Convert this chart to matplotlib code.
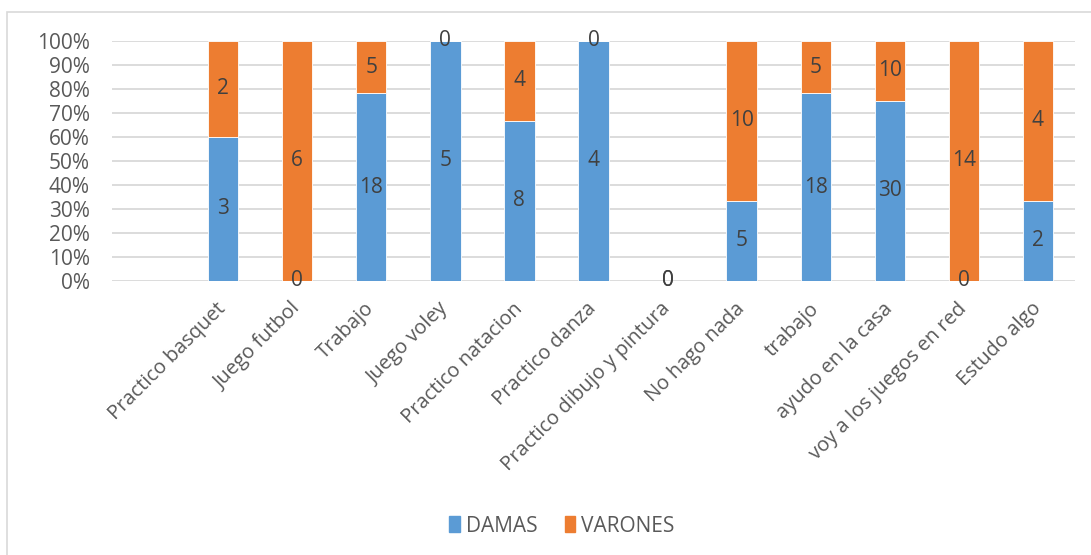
import numpy as np
import matplotlib
matplotlib.use("Agg")
import matplotlib.pyplot as plt
from matplotlib.patches import Rectangle

# categories (first slot is empty in the original chart)
categorias = ['', 'Practico basquet', 'Juego futbol', 'Trabajo', 'Juego voley',
              'Practico natacion', 'Practico danza', 'Practico dibujo y pintura',
              'No hago nada', 'trabajo', 'ayudo en la casa',
              'voy a los juegos en red', 'Estudo algo']
damas = [None, 3, 0, 18, 5, 8, 4, 0, 5, 18, 30, 0, 2]
varones = [None, 2, 6, 5, 0, 4, 0, 0, 10, 5, 10, 14, 4]

AZUL = '#5B9BD5'
NARANJA = '#ED7D31'
GRIS_TXT = '#595959'
ETIQ = '#404040'

plt.rcParams['font.family'] = ['Open Sans', 'DejaVu Sans']

fig = plt.figure(figsize=(10.91, 5.55), dpi=100)
# chart frame (light grey border like the Excel chart area)
fig.patches.append(Rectangle((7 / 1091, -0.1), 1.2, (555 - 12) / 555 + 0.1,
                             transform=fig.transFigure, fill=False,
                             edgecolor='#D9D9D9', linewidth=1.2))

ax = fig.add_axes([112 / 1091, (555 - 281) / 555, (1075 - 112) / 1091, 240 / 555])

x = np.arange(len(categorias))
for i in x:
    d, v = damas[i], varones[i]
    if d is None:
        continue
    tot = d + v
    fd = d / tot if tot else 0.0
    fv = v / tot if tot else 0.0
    ax.bar(i, fd, width=0.41, color=AZUL, edgecolor='white', linewidth=0.6, zorder=3)
    ax.bar(i, fv, bottom=fd, width=0.41, color=NARANJA, edgecolor='white', linewidth=0.6, zorder=3)
    # data labels centered in each segment
    ax.text(i, fd / 2, str(d), ha='center', va='center', fontsize=15, color=ETIQ, zorder=4)
    ax.text(i, fd + fv / 2, str(v), ha='center', va='center', fontsize=15, color=ETIQ, zorder=4)

ax.set_xlim(-0.5, len(categorias) - 0.5)
ax.set_ylim(0, 1)
ax.set_yticks(np.arange(0, 1.01, 0.1))
ax.set_yticklabels([f'{int(round(t * 100))}%' for t in np.arange(0, 1.01, 0.1)])
ax.yaxis.grid(True, color='#D9D9D9', linewidth=1.3, zorder=0)
ax.set_axisbelow(True)
for s in ax.spines.values():
    s.set_visible(False)
ax.tick_params(axis='both', length=0, colors=GRIS_TXT)
ax.tick_params(axis='y', pad=16, labelsize=15)

ax.set_xticks(x)
ax.set_xticklabels(categorias, rotation=45, ha='right', va='center', rotation_mode='anchor')
ax.tick_params(axis='x', pad=18, labelsize=14.5)

# legend
handles = [Rectangle((0, 0), 1, 1, color=AZUL), Rectangle((0, 0), 1, 1, color=NARANJA)]
fig.legend(handles, ['DAMAS', 'VARONES'], loc='center', bbox_to_anchor=(0.515, (555 - 526) / 555),
           ncol=2, frameon=False, fontsize=15, labelcolor=GRIS_TXT,
           handlelength=0.5, handleheight=0.8, handletextpad=0.3, columnspacing=1.3)

fig.savefig('out.png', dpi=100)
